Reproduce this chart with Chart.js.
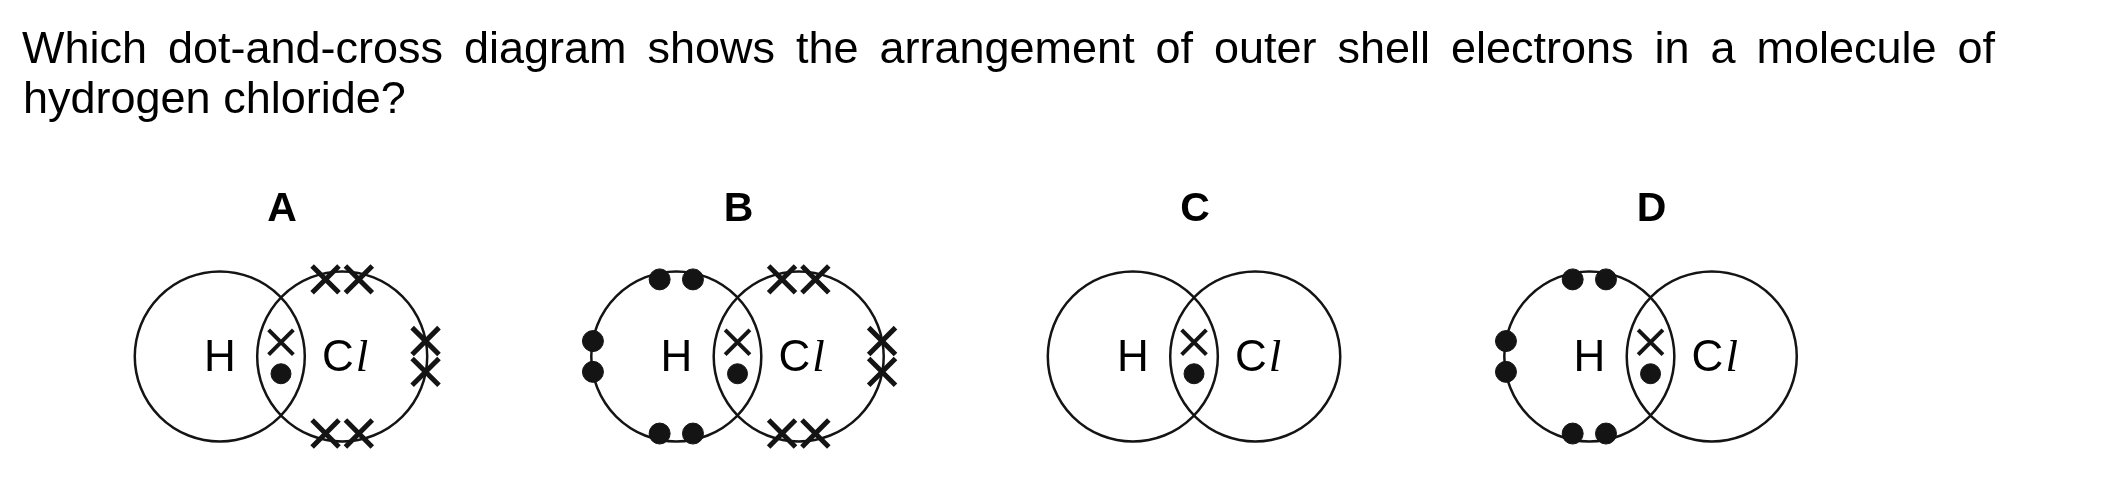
<!DOCTYPE html>
<html lang="en">
<head>
    <meta charset="UTF-8">
    <title>Dot-and-cross diagrams for hydrogen chloride</title>
    <script src="https://cdn.jsdelivr.net/npm/chart.js"></script>
    <style>
        html, body { margin: 0; padding: 0; background: #fff; }
        #chart-container { width: 2101px; height: 497px; position: relative; }
        canvas { display: block; }
    </style>
</head>
<body>
<div id="chart-container">
    <canvas id="hclChart"></canvas>
</div>

<script>
    // Question text
    const questionLines = [
        'Which dot-and-cross diagram shows the arrangement of outer shell electrons in a molecule of',
        'hydrogen chloride?'
    ];

    // The four answer options
    const optionLabels = ['A', 'B', 'C', 'D'];
    const atomSymbols = ['H', 'Cl'];

    // Non-bonding electrons, counted in pairs, for each option
    const hLonePairs = [0, 3, 0, 3];    // drawn as dots on the H shell
    const clLonePairs = [3, 3, 0, 0];   // drawn as crosses on the Cl shell

    // Where the pairs sit on a shell (degrees, 0 = right, 90 = top)
    const hPairSites = [90, 180, 270];
    const clPairSites = [90, 0, 270];

    // Layout, measured in shell radii (1 unit = one shell radius)
    const PX_PER_UNIT = 87;
    const STEP = 5.37;            // from one diagram to the next
    const ATOM_OFFSET = 0.72;     // atom centre from the middle of the overlap
    const PAIR_SPREAD = 11.3;     // degrees either side of a pair site
    const SHARED_CROSS_Y = 0.18;
    const SHARED_DOT_Y = -0.22;
    const LABEL_Y = 1.72;
    const SYMBOL_Y = -0.19;
    const X_MIN = -263 / PX_PER_UNIT;
    const Y_MAX = 368 / PX_PER_UNIT;

    const ink = '#141414';

    // Build point lists from the option tables
    const shellPoints = [];
    const sharedCross = [];
    const sharedDot = [];
    const hDots = [];
    const clCrosses = [];
    const onShell = (cx, deg) => {
        const t = deg * Math.PI / 180;
        return { x: cx + Math.cos(t), y: Math.sin(t) };
    };
    optionLabels.forEach((_, i) => {
        const mid = i * STEP;
        const hx = mid - ATOM_OFFSET;
        const clx = mid + ATOM_OFFSET;
        shellPoints.push({ x: hx, y: 0 }, { x: clx, y: 0 });
        sharedCross.push({ x: mid, y: SHARED_CROSS_Y });
        sharedDot.push({ x: mid, y: SHARED_DOT_Y });
        hPairSites.slice(0, hLonePairs[i]).forEach(a => {
            hDots.push(onShell(hx, a - PAIR_SPREAD), onShell(hx, a + PAIR_SPREAD));
        });
        clPairSites.slice(0, clLonePairs[i]).forEach(a => {
            clCrosses.push(onShell(clx, a - PAIR_SPREAD), onShell(clx, a + PAIR_SPREAD));
        });
    });

    // Text: question, option letters and atom symbols
    const textPlugin = {
        id: 'diagramText',
        afterDatasetsDraw(chart) {
            const { ctx, scales: { x, y } } = chart;
            ctx.save();
            ctx.fillStyle = '#000';
            ctx.textBaseline = 'alphabetic';

            // first line is justified between 22 and 1995
            ctx.font = '45px "Liberation Sans", Arial, sans-serif';
            ctx.textAlign = 'left';
            const words = questionLines[0].split(' ');
            const widths = words.map(w => ctx.measureText(w).width);
            const gap = (1995 - 22 - widths.reduce((a, b) => a + b, 0)) / (words.length - 1);
            let cx = 22;
            words.forEach((w, k) => {
                ctx.fillText(w, cx, 63);
                cx += widths[k] + gap;
            });
            ctx.fillText(questionLines[1], 23, 113);

            // option letters
            ctx.font = 'bold 41px "Liberation Sans", Arial, sans-serif';
            ctx.textAlign = 'center';
            optionLabels.forEach((lab, i) => {
                ctx.fillText(lab, x.getPixelForValue(i * STEP) + 1, y.getPixelForValue(LABEL_Y));
            });

            // atom symbols
            const base = y.getPixelForValue(SYMBOL_Y);
            optionLabels.forEach((_, i) => {
                const hx = x.getPixelForValue(i * STEP - ATOM_OFFSET);
                const clx = x.getPixelForValue(i * STEP + ATOM_OFFSET);
                ctx.font = '44px "Liberation Sans", Arial, sans-serif';
                ctx.textAlign = 'center';
                ctx.fillText(atomSymbols[0], hx, base);

                // Cl: upright C, italic serif l
                ctx.textAlign = 'left';
                const cW = ctx.measureText('C').width;
                ctx.font = 'italic 45px "Liberation Serif", "Times New Roman", serif';
                const lW = ctx.measureText('l').width;
                const start = clx + 2 - (cW + lW) / 2;
                ctx.font = '44px "Liberation Sans", Arial, sans-serif';
                ctx.fillText(atomSymbols[1][0], start, base);
                ctx.font = 'italic 45px "Liberation Serif", "Times New Roman", serif';
                ctx.fillText(atomSymbols[1][1], start + cW + 2, base);
            });
            ctx.restore();
        }
    };

    // shell radius in pixels, taken from the x scale
    const shellRadius = (c) => {
        const s = c.chart.scales.x;
        return s.getPixelForValue(1) - s.getPixelForValue(0);
    };

    const ctx = document.getElementById('hclChart').getContext('2d');
    const hclChart = new Chart(ctx, {
        type: 'scatter',
        data: {
            datasets: [
                {
                    label: 'shared dot',
                    data: sharedDot,
                    pointStyle: 'circle',
                    pointRadius: 10,
                    backgroundColor: ink,
                    borderColor: ink,
                    borderWidth: 1
                },
                {
                    label: 'shared cross',
                    data: sharedCross,
                    pointStyle: 'crossRot',
                    pointRadius: 17.5,
                    borderColor: ink,
                    borderWidth: 4
                },
                {
                    label: 'H lone pairs',
                    data: hDots,
                    pointStyle: 'circle',
                    pointRadius: 10.5,
                    backgroundColor: ink,
                    borderColor: ink,
                    borderWidth: 1
                },
                {
                    label: 'Cl lone pairs',
                    data: clCrosses,
                    pointStyle: 'crossRot',
                    pointRadius: 19,
                    borderColor: ink,
                    borderWidth: 5
                },
                {
                    label: 'shells',
                    data: shellPoints,
                    pointStyle: 'circle',
                    pointRadius: shellRadius,
                    backgroundColor: 'rgba(0,0,0,0)',
                    borderColor: ink,
                    borderWidth: 2.5
                }
            ]
        },
        options: {
            responsive: true,
            maintainAspectRatio: false,
            animation: false,
            events: [],
            layout: { padding: 0 },
            plugins: {
                legend: { display: false },
                tooltip: { enabled: false }
            },
            scales: {
                x: {
                    type: 'linear',
                    display: false,
                    min: X_MIN,
                    max: X_MIN + 2101 / PX_PER_UNIT
                },
                y: {
                    type: 'linear',
                    display: false,
                    min: Y_MAX - 497 / PX_PER_UNIT,
                    max: Y_MAX
                }
            }
        },
        plugins: [textPlugin]
    });
</script>

</body>
</html>
